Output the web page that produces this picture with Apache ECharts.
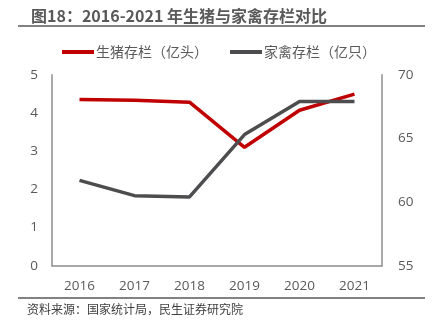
<!DOCTYPE html>
<html><head><meta charset="utf-8">
<script src="https://cdn.jsdelivr.net/npm/echarts@6/dist/echarts.min.js"></script>
<style>html,body{margin:0;padding:0;background:#fff}#c{width:438px;height:334px}</style>
</head><body><div id="c"></div>
<script>
const title = '图18：2016-2021 年生猪与家禽存栏对比';
const source = '资料来源：国家统计局，民生证券研究院';
const years = ['2016','2017','2018','2019','2020','2021'];
const hogName = '生猪存栏（亿头）';
const hogValues = [4.35, 4.33, 4.28, 3.10, 4.07, 4.49];
const poultryName = '家禽存栏（亿只）';
const poultryValues = [61.7, 60.5, 60.4, 65.3, 67.9, 67.9];

const chart = echarts.init(document.getElementById('c'));
const font = '"Noto Sans CJK SC", "Open Sans", sans-serif';
const axisLine = {show:true, lineStyle:{color:'#8c8c8c', width:1.5}};
chart.setOption({
  animation:false,
  textStyle:{fontFamily:font},
  title:{text:title, left:26, top:3, textStyle:{fontSize:16, fontWeight:'bold', color:'#595959', fontFamily:font}},
  graphic:[
    {type:'line', shape:{x1:18,y1:26,x2:425,y2:26}, style:{stroke:'#595959', lineWidth:1.5}},
    {type:'line', shape:{x1:18,y1:298,x2:425,y2:298}, style:{stroke:'#595959', lineWidth:1.5}},
    {type:'text', left:27, top:303, style:{text:source, font:'12px "Noto Sans CJK SC"', fill:'#404040'}}
  ],
  legend:{top:40, left:'center', itemWidth:32, itemHeight:4, itemGap:22, icon:'rect',
    textStyle:{fontSize:14, color:'#595959', fontFamily:font, padding:[0,0,0,-3]}, data:[hogName, poultryName]},
  grid:{left:52, right:56, top:74.7, bottom:68.3},
  xAxis:{type:'category', data:years, boundaryGap:true, axisLine:axisLine, axisTick:{show:false},
    axisLabel:{fontSize:13.5, color:'#595959', margin:13, fontFamily:'"Open Sans", sans-serif'}},
  yAxis:[
    {type:'value', min:0, max:5, interval:1, axisLine:axisLine, splitLine:{show:false}, axisTick:{show:false},
     axisLabel:{fontSize:13.5, color:'#595959', margin:14, fontFamily:'"Open Sans", sans-serif'}},
    {type:'value', min:55, max:70, interval:5, axisLine:axisLine, splitLine:{show:false}, axisTick:{show:false},
     axisLabel:{fontSize:13.5, color:'#595959', margin:16, fontFamily:'"Open Sans", sans-serif'}}
  ],
  series:[
    {name:hogName, type:'line', data:hogValues, yAxisIndex:0, symbol:'none', color:'#c00000',
     lineStyle:{width:3.5, color:'#c00000'}},
    {name:poultryName, type:'line', data:poultryValues, yAxisIndex:1, symbol:'none', color:'#4d4d4f',
     lineStyle:{width:3.5, color:'#4d4d4f'}}
  ]
});
</script></body></html>
